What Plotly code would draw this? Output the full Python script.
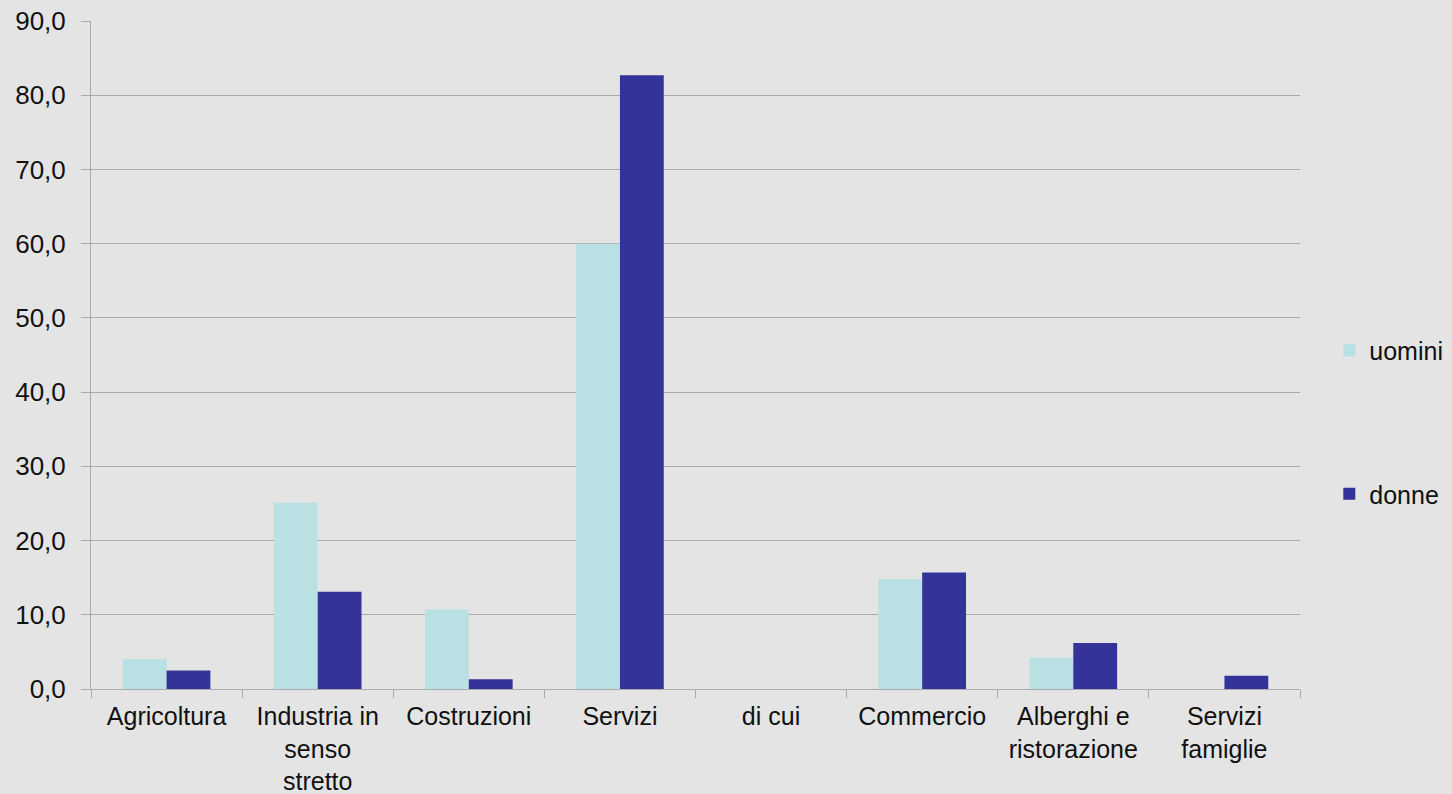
import plotly.graph_objects as go

categories = [
    "Agricoltura",
    "Industria in<br>senso<br>stretto",
    "Costruzioni",
    "Servizi",
    "di cui",
    "Commercio",
    "Alberghi e<br>ristorazione",
    "Servizi<br>famiglie",
]
uomini = [4.0, 25.1, 10.7, 60.0, None, 14.8, 4.2, None]
donne = [2.5, 13.1, 1.3, 82.7, None, 15.7, 6.2, 1.8]

y_ticks = [0, 10, 20, 30, 40, 50, 60, 70, 80, 90]

BG = "#e4e4e4"
GRID = "#ababab"
FONT = "Liberation Sans, Arial, sans-serif"

fig = go.Figure()
fig.add_trace(go.Bar(
    name="uomini", x=categories, y=uomini,
    marker=dict(color="#b9e0e3", line=dict(width=0)),
    legendgroup="u",
))
fig.add_trace(go.Bar(
    name="donne", x=categories, y=donne,
    marker=dict(color="#333399", line=dict(width=0)),
    legendgroup="d",
))

fig.update_layout(
    width=1452, height=794,
    margin=dict(l=91, r=152, t=21, b=105),
    paper_bgcolor=BG, plot_bgcolor=BG,
    font=dict(family=FONT, size=26, color="#111111"),
    separators=",.",
    barmode="group",
    bargap=0.42,
    bargroupgap=0,
    showlegend=True,
    legend=dict(
        xref="container", yref="container",
        x=0.9155, xanchor="left", y=0.4685, yanchor="middle",
        bgcolor="rgba(0,0,0,0)",
        font=dict(size=25),
        traceorder="grouped",
        tracegroupgap=108,
        itemwidth=30,
    ),
    xaxis=dict(
        type="category",
        automargin=False,
        showgrid=False,
        showline=True, linecolor=GRID, linewidth=1,
        ticks="outside", tickson="boundaries", ticklen=8, tickcolor=GRID,
        ticklabelstandoff=5,
        tickfont=dict(size=25),
    ),
    yaxis=dict(
        range=[0, 90],
        automargin=False,
        tickvals=y_ticks,
        tickformat=".1f",
        showgrid=True, gridcolor=GRID, gridwidth=1,
        showline=True, linecolor=GRID, linewidth=1,
        ticks="outside", ticklen=9, tickcolor=GRID,
        ticklabelstandoff=10,
        tickfont=dict(size=26),
        zeroline=False,
    ),
)

fig.write_html("out.html")
